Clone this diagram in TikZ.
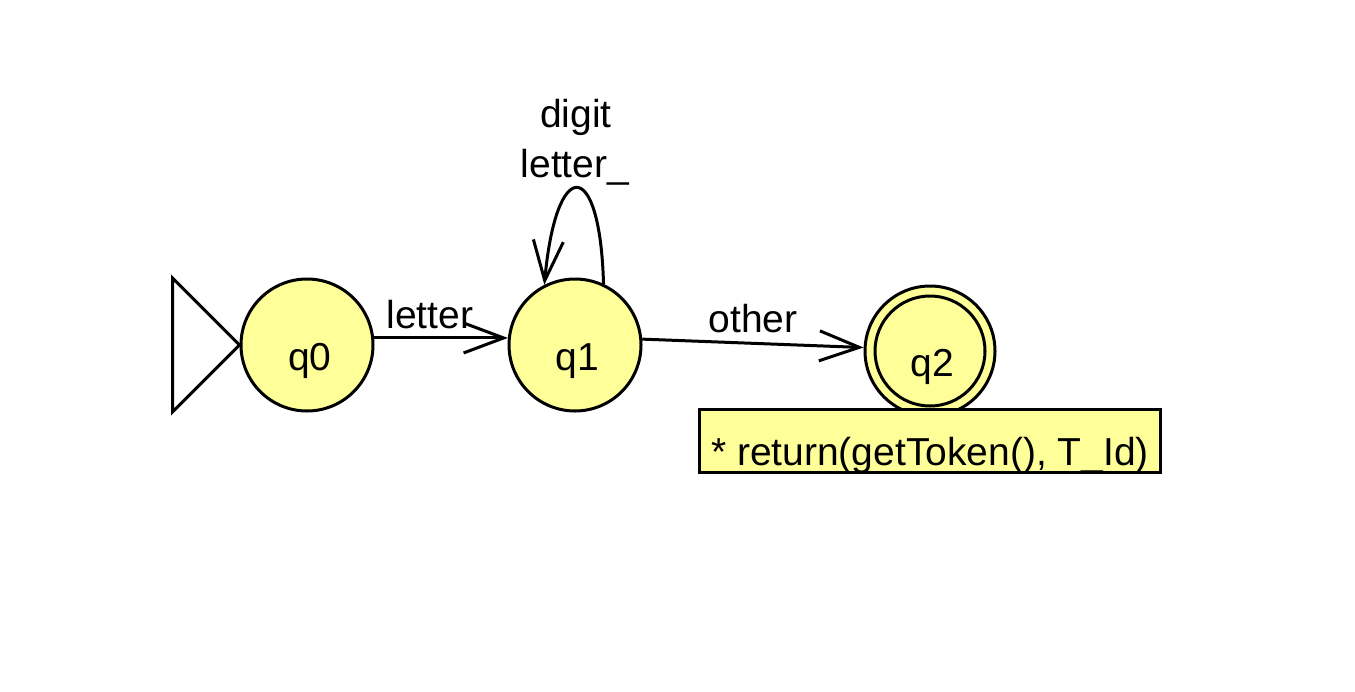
\documentclass[tikz,border=0pt]{standalone}
\usepackage{fontspec}
\setmainfont{Liberation Sans}
\usetikzlibrary{arrows.meta}
\definecolor{stfill}{RGB}{255,255,153}
\begin{document}
\begin{tikzpicture}[x=1pt,y=-1pt,
  every node/.style={font=\fontsize{39}{47}\selectfont},
  state/.style={circle,draw=black,line width=3pt,fill=stfill,minimum size=132pt,inner sep=0pt},
  lbl/.style={anchor=base,inner sep=0pt},
  conn/.style={line width=3pt,-{Straight Barb[length=40pt,width=30pt,line width=3pt]}},
  line width=3pt]
\path[use as bounding box] (0,0) rectangle (1355,691);
\node[state] (q0) at (307,345) {};
\node[lbl] (t0) at (310,370) {q0};
\node[state] (q1) at (575,345) {};
\node[lbl] (t1) at (577,370) {q1};
\node[state,minimum size=130pt] (q2) at (930,351) {};
\node[circle,draw=black,line width=3pt,minimum size=110pt,inner sep=0pt] (q2in) at (q2) {};
\node[lbl] (t2) at (932,376) {q2};
\node[draw=black,line width=3pt,fill=stfill,minimum width=461pt,minimum height=63pt,inner sep=0pt] (box) at (929.5,440.5) {};
\node[lbl] (tb) at (930,465) {* return(getToken(), T\_Id)};
% initial triangle
\draw[line join=miter] (q0.west) -- ++(-67,-67) -- ++(0,134) -- cycle;
% edges
\draw[conn] (q0.6) -- (q1.174);
\node[lbl] (l01) at (430,328) {letter};
\draw[conn] (q1.5) -- (q2.177);
\node[lbl] (l12) at (753,332) {other};
\draw[conn] (q1.65) .. controls (600,156) and (556,156) .. (q1.117);
\node[lbl] (l11a) at (576,127) {digit};
\node[lbl] (l11b) at (575,177) {letter\_};
\end{tikzpicture}
\end{document}
